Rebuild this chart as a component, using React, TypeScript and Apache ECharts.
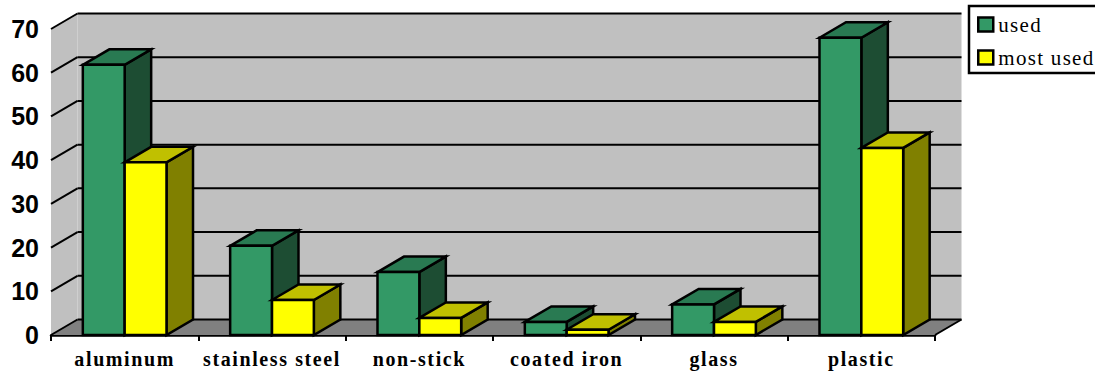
import React, { useEffect, useRef } from "react";
import * as echarts from "echarts";

const categories = ["aluminum", "stainless steel", "non-stick", "coated iron", "glass", "plastic"];
const usedValues = [61.8, 20.4, 14.4, 3, 7, 68];
const mostUsedValues = [39.5, 8, 3.9, 1.2, 3, 42.8];
const yTicks = [0, 10, 20, 30, 40, 50, 60, 70];

const DEPTH_X = 26.5;
const DEPTH_Y = 15.5;
const BAR_RATIO = 0.284;
const EDGE = 2.5;

const poly = (points: number[][], fill: string, stroke = "#000") => ({
  type: "polygon",
  shape: { points },
  style: { fill, stroke, lineWidth: EDGE, lineJoin: "miter" },
});

const seg = (x1: number, y1: number, x2: number, y2: number) => ({
  type: "line",
  shape: { x1, y1, x2, y2 },
  style: { stroke: "#000", lineWidth: 2 },
});

// Back wall, side wall, floor and the gridlines that wrap around them.
const renderWalls = (params: any, api: any) => {
  const sys = params.coordSys;
  const xl = sys.x;
  const xr = sys.x + sys.width;
  const y0 = api.coord([0, 0])[1];
  const yTop = api.coord([0, 70])[1];
  const none = "none";
  const wall = "#C0C0C0";
  const floor = "#808080";
  const children: any[] = [
    poly([[xl, y0], [xl, yTop], [xl + DEPTH_X, yTop - DEPTH_Y], [xl + DEPTH_X, y0 - DEPTH_Y]], wall, none),
    poly([[xl + DEPTH_X, yTop - DEPTH_Y], [xr + DEPTH_X, yTop - DEPTH_Y], [xr + DEPTH_X, y0 - DEPTH_Y], [xl + DEPTH_X, y0 - DEPTH_Y]], wall, none),
    poly([[xl, y0], [xl + DEPTH_X, y0 - DEPTH_Y], [xr + DEPTH_X, y0 - DEPTH_Y], [xr, y0]], floor, none),
    seg(xr, y0, xr + DEPTH_X, y0 - DEPTH_Y),
  ];
  yTicks.forEach((t) => {
    const y = api.coord([0, t])[1];
    children.push(seg(xl, y, xl + DEPTH_X, y - DEPTH_Y));
    children.push(seg(xl + DEPTH_X, y - DEPTH_Y, xr + DEPTH_X, y - DEPTH_Y));
  });
  return { type: "group", children };
};

// A prism for one value; slot 0 sits left of the category centre, slot 1 right of it.
const renderPrism = (slot: number, front: string, top: string, side: string) => (params: any, api: any) => {
  const cat = api.value(0);
  const [cx, yBase] = api.coord([cat, 0]);
  const yVal = api.coord([cat, api.value(1)])[1];
  const w = api.size([1, 0])[0] * BAR_RATIO;
  const x0 = cx - w + slot * w;
  const x1 = x0 + w;
  return {
    type: "group",
    children: [
      poly([[x1, yBase], [x1, yVal], [x1 + DEPTH_X, yVal - DEPTH_Y], [x1 + DEPTH_X, yBase - DEPTH_Y]], side),
      poly([[x0, yVal], [x0 + DEPTH_X, yVal - DEPTH_Y], [x1 + DEPTH_X, yVal - DEPTH_Y], [x1, yVal]], top),
      poly([[x0, yBase], [x0, yVal], [x1, yVal], [x1, yBase]], front),
    ],
  };
};

export default function App() {
  const ref = useRef<HTMLDivElement>(null);

  useEffect(() => {
    const chart = echarts.init(ref.current!, undefined, { renderer: "svg" });
    chart.setOption({
      animation: false,
      backgroundColor: "#fff",
      grid: { left: 51, right: 160, top: 29, bottom: 36, containLabel: false },
      legend: {
        orient: "vertical",
        left: 969,
        top: 6,
        padding: [8, 60, 5, 8],
        backgroundColor: "#fff",
        borderColor: "#000",
        borderWidth: 2.5,
        borderRadius: 0,
        itemWidth: 15,
        itemHeight: 14,
        itemGap: 12,
        itemStyle: { borderColor: "#000", borderWidth: 2.5 },
        textStyle: { fontFamily: "Liberation Serif", fontSize: 21, color: "#000" },
        selectedMode: false,
        data: [
          { name: "used", icon: "rect" },
          { name: "most used", icon: "rect" },
        ],
      },
      xAxis: {
        type: "category",
        data: categories,
        boundaryGap: true,
        axisLine: { show: true, lineStyle: { color: "#000", width: 2.5 } },
        axisTick: { show: true, length: 6, lineStyle: { color: "#000", width: 2 } },
        axisLabel: {
          interval: 0,
          margin: 14,
          fontFamily: "Liberation Serif",
          fontWeight: "bold",
          fontSize: 20,
          color: "#000",
        },
      },
      yAxis: {
        type: "value",
        min: 0,
        max: 70,
        interval: 10,
        axisLine: { show: false },
        axisTick: { show: false },
        splitLine: { show: false },
        axisLabel: {
          margin: 12,
          fontFamily: "Liberation Sans",
          fontWeight: "bold",
          fontSize: 25,
          color: "#000",
        },
      },
      series: [
        {
          type: "custom",
          name: "walls",
          silent: true,
          data: [[0, 0]],
          renderItem: renderWalls,
        },
        {
          type: "custom",
          name: "used",
          itemStyle: { color: "#339966" },
          data: usedValues.map((v, i) => [i, v]),
          encode: { x: 0, y: 1 },
          renderItem: renderPrism(0, "#339966", "#297A52", "#1D4D33"),
        },
        {
          type: "custom",
          name: "most used",
          itemStyle: { color: "#FFFF00" },
          data: mostUsedValues.map((v, i) => [i, v]),
          encode: { x: 0, y: 1 },
          renderItem: renderPrism(1, "#FFFF00", "#C0C000", "#808000"),
        },
      ],
    });
    return () => chart.dispose();
  }, []);

  return (
    <>
      <style>{`
        .pots text[style*="Serif"] { letter-spacing: 1.3px; }
        .pots text[style*="Serif"][style*="bold"] { letter-spacing: 1.6px; }
      `}</style>
      <div
        ref={ref}
        className="pots"
        style={{ position: "absolute", left: 0, top: 0, width: 1095, height: 371, overflow: "hidden" }}
      />
    </>
  );
}
